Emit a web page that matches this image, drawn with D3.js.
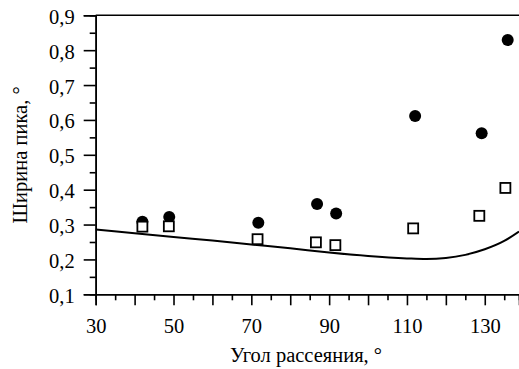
<!DOCTYPE html>
<html>
<head>
<meta charset="utf-8">
<script src="https://cdn.jsdelivr.net/npm/d3@7"></script>
<style>
  html, body { margin: 0; padding: 0; background: #fff; }
  svg { display: block; }
  svg text { font-family: "Liberation Serif", "Times New Roman", serif !important; fill: #000; }
</style>
</head>
<body>
<svg id="chart" width="519" height="369"></svg>
<script>
// ---- data ----
const circleX = [42.0, 48.9, 71.8, 86.9, 91.8, 112.1, 129.2, 135.9];
const circleY = [0.308, 0.322, 0.305, 0.359, 0.332, 0.611, 0.562, 0.829];
const squareX = [42.0, 48.8, 71.6, 86.6, 91.6, 111.6, 128.6, 135.3];
const squareY = [0.294, 0.295, 0.258, 0.249, 0.241, 0.289, 0.325, 0.405];
const curveX = [30, 40, 50, 60, 70, 80, 90, 100, 110, 115, 120, 125, 130, 135, 138.8];
const curveY = [0.286, 0.275, 0.264, 0.254, 0.243, 0.232, 0.220, 0.210, 0.203, 0.201, 0.204, 0.213, 0.229, 0.253, 0.280];
const xMajorTicks = [30, 40, 50, 60, 70, 80, 90, 100, 110, 120, 130];
const xMinorTicks = [35, 45, 55, 65, 75, 85, 95, 105, 115, 125, 135];
const xTickLabels = {30: "30", 50: "50", 70: "70", 90: "90", 110: "110", 130: "130"};
const yMajorTicks = [0.1, 0.2, 0.3, 0.4, 0.5, 0.6, 0.7, 0.8, 0.9];
const yMinorTicks = [0.15, 0.25, 0.35, 0.45, 0.55, 0.65, 0.75, 0.85];
const yTickLabels = ["0,1", "0,2", "0,3", "0,4", "0,5", "0,6", "0,7", "0,8", "0,9"];
const xTitle = "Угол рассеяния, °";
const yTitle = "Ширина пика, °";

// ---- layout ----
const svg = d3.select("#chart");
const x = d3.scaleLinear().domain([30, 138.8]).range([95.7, 519]);
const y = d3.scaleLinear().domain([0.1, 0.9]).range([294.3, 15.3]);
const fontFamily = '"Liberation Serif", "Times New Roman", serif';
const fontSize = 20.5;

// top frame line
svg.append("line")
  .attr("x1", x(30)).attr("x2", 519)
  .attr("y1", y(0.9)).attr("y2", y(0.9))
  .attr("stroke", "#000").attr("stroke-width", 1.6);

function styleAxis(g) {
  g.attr("font-family", fontFamily).attr("font-size", fontSize);
  g.select(".domain").attr("stroke", "#000").attr("stroke-width", 1.6);
  g.selectAll(".tick line").attr("stroke", "#000").attr("stroke-width", 1.6);
  g.selectAll(".tick text").attr("fill", "#000");
}

// x axis
const xAxisMinor = d3.axisBottom(x).tickValues(xMinorTicks).tickSize(6).tickFormat("");
const xAxisMajor = d3.axisBottom(x).tickValues(xMajorTicks).tickSize(11)
  .tickFormat(d => xTickLabels[d] || "").tickPadding(13);
svg.append("g").attr("transform", `translate(0,${y(0.1)})`).call(xAxisMinor).call(styleAxis);
svg.append("g").attr("transform", `translate(0,${y(0.1)})`).call(xAxisMajor).call(styleAxis);

// y axis
const yAxisMinor = d3.axisLeft(y).tickValues(yMinorTicks).tickSize(6).tickFormat("");
const yAxisMajor = d3.axisLeft(y).tickValues(yMajorTicks).tickSize(12)
  .tickFormat((d, i) => yTickLabels[i]).tickPadding(9);
svg.append("g").attr("transform", `translate(${x(30)},0)`).call(yAxisMinor).call(styleAxis);
svg.append("g").attr("transform", `translate(${x(30)},0)`).call(yAxisMajor).call(styleAxis)
  .selectAll(".tick text").attr("dy", "0.39em");

// curve
const curveData = curveX.map((v, i) => [v, curveY[i]]);
svg.append("path")
  .datum(curveData)
  .attr("fill", "none").attr("stroke", "#000").attr("stroke-width", 2)
  .attr("d", d3.line().x(d => x(d[0])).y(d => y(d[1])).curve(d3.curveMonotoneX));

// circles
svg.append("g").selectAll("circle")
  .data(circleX.map((v, i) => [v, circleY[i]]))
  .join("circle")
  .attr("cx", d => x(d[0])).attr("cy", d => y(d[1])).attr("r", 6)
  .attr("fill", "#000");

// squares
const sq = 10;
svg.append("g").selectAll("rect")
  .data(squareX.map((v, i) => [v, squareY[i]]))
  .join("rect")
  .attr("x", d => x(d[0]) - sq / 2).attr("y", d => y(d[1]) - sq / 2)
  .attr("width", sq).attr("height", sq)
  .attr("fill", "#fff").attr("stroke", "#000").attr("stroke-width", 1.8);

// titles
svg.append("text")
  .attr("x", 306).attr("y", 362)
  .attr("text-anchor", "middle")
  .attr("font-family", fontFamily).attr("font-size", fontSize)
  .text(xTitle);
svg.append("text")
  .attr("transform", "translate(27,155) rotate(-90)")
  .attr("text-anchor", "middle")
  .attr("font-family", fontFamily).attr("font-size", fontSize)
  .text(yTitle);
</script>
</body>
</html>
